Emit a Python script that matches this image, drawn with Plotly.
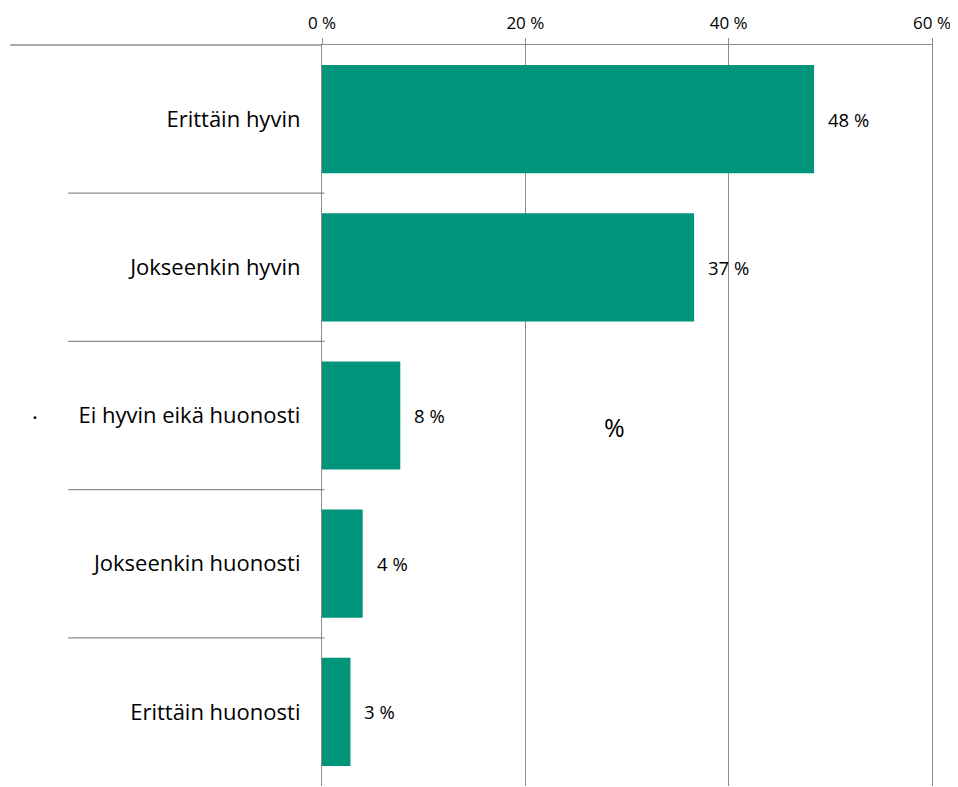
import plotly.graph_objects as go

categories = ["Erittäin hyvin", "Jokseenkin hyvin", "Ei hyvin eikä huonosti",
              "Jokseenkin huonosti", "Erittäin huonosti"]
values = [48.4, 36.6, 7.7, 4.0, 2.8]
labels = ["48 %", "37 %", "8 %", "4 %", "3 %"]
tick_vals = [0, 20, 40, 60]
tick_text = ["0 %", "20 %", "40 %", "60 %"]

BAR = "#00957A"
GRID = "#8C8C8C"
FONT = "'Open Sans', 'Noto Sans', sans-serif"

fig = go.Figure()
fig.add_trace(go.Bar(
    y=categories, x=values, orientation="h",
    marker=dict(color=BAR, line=dict(width=0)),
    hoverinfo="skip",
))

# data labels
for c, v, t in zip(categories, values, labels):
    fig.add_annotation(x=v, y=c, text=t, showarrow=False, xanchor="left",
                       xshift=12, font=dict(family=FONT, size=18.5, color="#000"))

# axis title placed inside plot
fig.add_annotation(x=28.8, y=2.08, text="%", showarrow=False,
                   font=dict(family=FONT, size=25, color="#000"))
# stray dot
fig.add_annotation(x=-0.478, y=2, xref="paper", text="·", showarrow=False,
                   font=dict(family=FONT, size=22, color="#000"))

# left extension of the top axis line
fig.add_shape(type="line", xref="paper", yref="paper", x0=-0.511, x1=0, y0=1, y1=1,
              line=dict(color=GRID, width=1.3))
# category separators
for i in range(len(categories) - 1):
    fig.add_shape(type="line", xref="paper", yref="y", x0=-0.416, x1=0.004,
                  y0=i + 0.5, y1=i + 0.5, line=dict(color=GRID, width=1.3))

# page body has an 8px margin, so the figure is shrunk by that offset
fig.update_layout(
    width=950, height=779,
    margin=dict(l=314, r=26, t=37, b=1, autoexpand=False),
    paper_bgcolor="white", plot_bgcolor="white",
    bargap=0.27, showlegend=False,
    xaxis=dict(
        side="top", range=[0, 60], tickvals=tick_vals, ticktext=tick_text,
        showgrid=True, gridcolor=GRID, gridwidth=1.3,
        showline=True, linecolor=GRID, linewidth=1.3,
        ticks="outside", ticklen=6, tickcolor=GRID, tickwidth=1.3,
        ticklabelstandoff=2, automargin=False,
        tickfont=dict(family=FONT, size=17, color="#000"),
        zeroline=False, fixedrange=True,
    ),
    yaxis=dict(
        autorange="reversed", showgrid=False,
        showline=True, mirror=True, linecolor=GRID, linewidth=1.3,
        ticks="", ticklabelstandoff=16, automargin=False,
        tickfont=dict(family=FONT, size=22, color="#000"),
        fixedrange=True,
    ),
)

fig.write_html("out.html")
